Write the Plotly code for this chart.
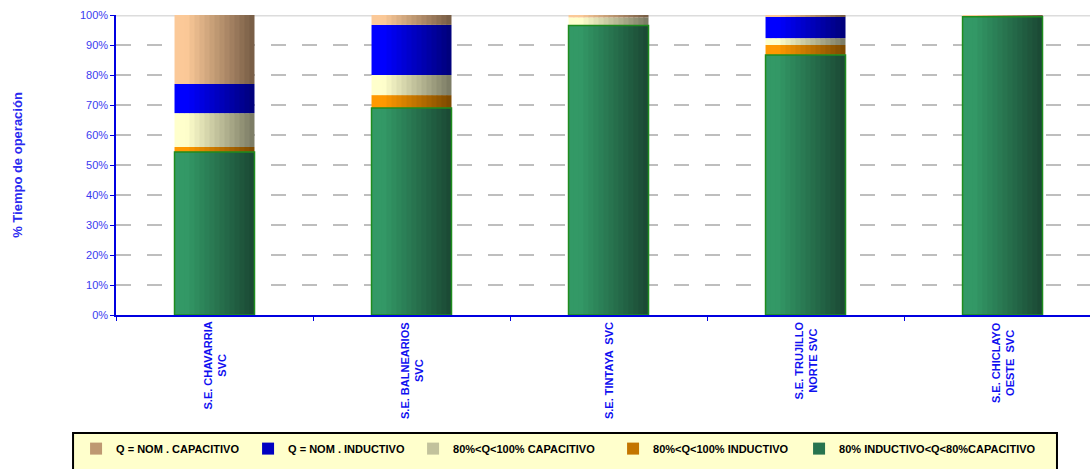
import numpy as np
import plotly.graph_objects as go

stations = ["CHAVARRIA", "BALNEARIOS", "TINTAYA", "TRUJILLO", "CHICLAYO"]
station_labels = ["S.E. CHAVARRIA<br>SVC", "S.E. BALNEARIOS<br>SVC", "S.E. TINTAYA  SVC",
                  "S.E. TRUJILLO<br>NORTE SVC", "S.E. CHICLAYO<br>OESTE  SVC"]

# % de tiempo de operacion por banda (de abajo hacia arriba)
banda_80 = [54.3, 69.0, 96.5, 86.7, 99.4]
ind_80_100 = [1.7, 4.3, 0.0, 3.3, 0.2]
cap_80_100 = [11.3, 6.7, 2.7, 2.3, 0.3]
nom_ind = [9.7, 16.7, 0.0, 7.1, 0.0]
nom_cap = [23.0, 3.3, 0.8, 0.6, 0.1]

# nombre, valores, color claro, color oscuro, ancho en leyenda
series = [
    ("80% INDUCTIVO&lt;Q&lt;80%CAPACITIVO", banda_80, (0x33, 0x99, 0x66), (0x1A, 0x47, 0x33), 200),
    ("80%&lt;Q&lt;100% INDUCTIVO", ind_80_100, (0xFF, 0x99, 0x00), (0x7A, 0x48, 0x00), 141),
    ("80%&lt;Q&lt;100% CAPACITIVO", cap_80_100, (0xFF, 0xFF, 0xCC), (0x78, 0x78, 0x62), 155),
    ("Q = NOM . INDUCTIVO", nom_ind, (0x00, 0x00, 0xFF), (0x00, 0x00, 0x78), 120),
    ("Q = NOM . CAPACITIVO", nom_cap, (0xFB, 0xC9, 0x98), (0x74, 0x5B, 0x44), 127),
]

BAR_W = 0.406
N = 16

def mix(c1, c2, t):
    return "rgb(%d,%d,%d)" % tuple(round(a + (b - a) * t) for a, b in zip(c1, c2))

fig = go.Figure()
base = np.zeros(len(stations))
for k, (name, vals, light, dark, lw) in enumerate(series):
    vals = np.array(vals)
    for i in range(N):
        s = (i + 0.5) / N
        t = max(0.0, (s - 0.15) / 0.85)
        w = BAR_W / N
        fig.add_trace(go.Bar(
            x=stations, y=vals, base=base,
            width=w + (0.004 if i < N - 1 else 0),
            offset=-BAR_W / 2 + i * w,
            marker=dict(color=mix(light, dark, t), line=dict(width=0)),
            name=name, legendgroup=name, legendwidth=lw,
            showlegend=(i == N // 2), legendrank=10 - k,
            hoverinfo="skip",
        ))
    base = base + vals

# borde verde de la banda principal
fig.add_trace(go.Bar(
    x=stations, y=banda_80, width=BAR_W, offset=-BAR_W / 2,
    marker=dict(color="rgba(0,0,0,0)", line=dict(color="#1E8C1E", width=1.5)),
    showlegend=False, hoverinfo="skip",
))

for st, lab in zip(stations, station_labels):
    fig.add_annotation(x=st, xref="x", y=0, yref="paper", yshift=-5,
                       yanchor="top", xanchor="center", textangle=-90,
                       text="<b>%s</b>" % lab, showarrow=False, align="center",
                       font=dict(family="Arial", size=11, color="#1010F0"))

# linea superior y recuadro de leyenda
fig.add_shape(type="line", xref="paper", yref="y", x0=0, x1=1, y0=100, y1=100,
              line=dict(color="#DCDCDC", width=3), layer="below")
fig.add_shape(type="rect", xref="paper", yref="paper", x0=-0.0441, x1=0.9661,
              y0=-0.3933, y1=-0.56, line=dict(color="black", width=2),
              fillcolor="#FFFFCC", layer="below")

fig.update_layout(
    width=1090, height=469,
    margin=dict(l=116, r=0, t=15, b=154),
    paper_bgcolor="white", plot_bgcolor="white",
    barmode="overlay",
    font=dict(family="Arial", size=11, color="#3A3AF0"),
    xaxis=dict(range=[-0.5, 4.444], showticklabels=False, tickson="boundaries",
               ticks="outside", ticklen=4, tickcolor="#0000E0", automargin=False,
               showline=True, linecolor="#0000E0", linewidth=1.5, showgrid=False),
    yaxis=dict(range=[0, 100], dtick=10, ticksuffix="%", ticks="outside", ticklen=4,
               tickcolor="#0000E0", showline=True, linecolor="#0000E0", linewidth=1.5,
               showgrid=True, gridcolor="#BEBEBE", gridwidth=1.5, griddash="15px,16px",
               zeroline=False, automargin=False,
               tickfont=dict(family="Arial", size=11, color="#3A3AF0"),
               title=dict(text="<b>% Tiempo de operación</b>", standoff=54,
                          font=dict(family="Arial", size=13, color="#2A2AF0"))),
    legend=dict(orientation="h", x=-0.041, xanchor="left", y=-0.397, yanchor="top",
                bgcolor="rgba(0,0,0,0)", borderwidth=0,
                font=dict(family="Arial", size=11, color="black", weight="bold")),
)

fig.write_html("out.html", config={"displayModeBar": False},
               post_script="document.body.style.margin='0';")
